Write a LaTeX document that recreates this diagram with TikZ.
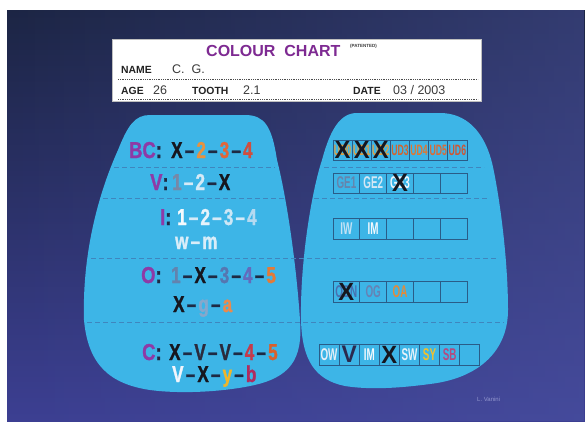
\documentclass[tikz,border=0pt]{standalone}
\usepackage{fontspec}
\setmainfont{Liberation Sans}
\newfontfamily\condb{Liberation Sans}[FakeStretch=0.74, FakeBold=1.3]
\newfontfamily\condl{Liberation Sans}[FakeStretch=0.8, FakeBold=1.3]
\newfontfamily\cellf{Liberation Sans}[FakeStretch=0.58]
\newfontfamily\xf{Liberation Sans}[FakeStretch=0.95]
\usetikzlibrary{fadings}
\tikzfading[name=fadeleft, left color=transparent!100, right color=transparent!0]
\definecolor{bgtop}{HTML}{1C2544}
\definecolor{bgbot}{HTML}{3C3F92}
\definecolor{bgright}{HTML}{5058A8}
\definecolor{blob}{HTML}{3DB5E7}
\definecolor{sepc}{HTML}{3F86BE}
\definecolor{lpurp}{HTML}{8E3AA6}
\definecolor{tpurp}{HTML}{7E2A92}
\definecolor{dk}{HTML}{1E2A44}
\definecolor{lh}{HTML}{D6EAF7}
\definecolor{xblk}{HTML}{16161E}
\definecolor{o2}{HTML}{E8923F}
\definecolor{o3}{HTML}{E0663A}
\definecolor{o4}{HTML}{CF4E3E}
\definecolor{v1}{HTML}{7888A6}
\definecolor{v2}{HTML}{D6EAF7}
\definecolor{i1}{HTML}{F6FAFD}
\definecolor{i2}{HTML}{E6F3FB}
\definecolor{i3}{HTML}{CDE7F6}
\definecolor{i4}{HTML}{B5DAF1}
\definecolor{wm}{HTML}{D9EDF9}
\definecolor{n1}{HTML}{6383AE}
\definecolor{n3}{HTML}{5676B0}
\definecolor{n4}{HTML}{646ABC}
\definecolor{n5}{HTML}{E57A36}
\definecolor{gg}{HTML}{86A8CC}
\definecolor{aa}{HTML}{E98A4E}
\definecolor{vv}{HTML}{2A2A3C}
\definecolor{c4}{HTML}{C63A4A}
\definecolor{c5}{HTML}{D9602C}
\definecolor{vw}{HTML}{F2F5FC}
\definecolor{yy}{HTML}{F0B52A}
\definecolor{bb}{HTML}{B02C5E}
\definecolor{cellline}{HTML}{2A5C88}
\definecolor{ud0}{HTML}{E0A040}
\definecolor{ud3}{HTML}{D2642E}
\definecolor{ud4}{HTML}{E07832}
\definecolor{ud5}{HTML}{DC6A34}
\definecolor{ud6}{HTML}{CE5634}
\definecolor{ge1}{HTML}{6684AC}
\definecolor{ge2}{HTML}{D3E7F5}
\definecolor{ge3}{HTML}{EEF6FC}
\definecolor{iw}{HTML}{C4E2F5}
\definecolor{im}{HTML}{F2F9FE}
\definecolor{obn}{HTML}{4870B0}
\definecolor{og}{HTML}{6682B4}
\definecolor{oa}{HTML}{E28A3A}
\definecolor{ow}{HTML}{E4EFF8}
\definecolor{vn}{HTML}{2B2A4E}
\definecolor{sw}{HTML}{E8F3FB}
\definecolor{sy}{HTML}{F2C02C}
\definecolor{sb}{HTML}{B44A7E}
\definecolor{sig}{HTML}{9397CF}
\definecolor{hdtxt}{HTML}{222222}
\definecolor{hdval}{HTML}{3A3A3A}
\newcommand\cc[2]{\textcolor{#1}{#2}}
\newcommand\ck[2]{\textcolor{#1}{#2}\kern2.2pt}
\tikzset{
  lab/.style={anchor=base west, inner sep=0pt, font=\condl\bfseries\fontsize{23}{23}\selectfont, text=lpurp},
  seq/.style={anchor=base west, inner sep=0pt, font=\condb\bfseries\fontsize{23}{23}\selectfont},
  sepline/.style={draw=sepc, line width=0.9pt, dash pattern=on 5pt off 3pt},
  hdlab/.style={anchor=base west, inner sep=0pt, font=\bfseries\fontsize{10.4}{10.4}\selectfont, text=hdtxt},
  hdval/.style={anchor=base west, inner sep=0pt, font=\fontsize{12.5}{12.5}\selectfont, text=hdval},
  hdline/.style={draw=black!70, line width=0.6pt, dash pattern=on 1pt off 0.8pt},
  cell/.style={draw=cellline, line width=0.8pt, inner sep=0pt, outer sep=0pt, anchor=north west, font=\cellf\bfseries\fontsize{17}{17}\selectfont},
  xmark/.style={inner sep=0pt, text=xblk, font=\xf\bfseries\fontsize{25}{25}\selectfont},
}
\begin{document}
\begin{tikzpicture}[x=1pt, y=-1pt]
\useasboundingbox (0,0) rectangle (585,421);
% background
\fill[white] (0,0) rectangle (585,421);
\shade[top color=bgtop, bottom color=bgbot] (7,10) rectangle (585,421);
\fill[bgright, path fading=fadeleft, opacity=0.45] (7,10) rectangle (585,421);
% header card
\draw[fill=white, draw=black!25] (112,39) rectangle (481,101);
\node[anchor=base west, inner sep=0pt, font=\bfseries\fontsize{16}{16}\selectfont, text=tpurp] (title) at (206,56) {COLOUR\ \ CHART};
\node[anchor=base west, inner sep=0pt, font=\bfseries\fontsize{4.5}{4.5}\selectfont, text=hdval] (pat) at (350,47) {(PATENTED)};
\node[hdlab] (name) at (121,73) {NAME};
\node[hdval] (nameval) at (172,73) {C.\hspace{7pt}G.};
\draw[hdline] (118,79) -- (478,79);
\node[hdlab] (age) at (121,94) {AGE};
\node[hdval] (ageval) at (153,94) {26};
\node[hdlab] (tooth) at (192,94) {TOOTH};
\node[hdval] (toothval) at (243,94) {2.1};
\node[hdlab] (date) at (353,94) {DATE};
\node[hdval] (dateval) at (393,94) {03 / 2003};
\draw[hdline] (118,99) -- (478,99);
% blobs
\fill[blob] (150,115) -- (245,115) .. controls (265,115) and (272,127) .. (277,160)
  .. controls (286,195) and (296,260) .. (300,320)
  .. controls (303,360) and (290,378) .. (250,386)
  .. controls (220,392) and (180,394) .. (150,390)
  .. controls (110,384) and (88,365) .. (84,320)
  .. controls (82,250) and (100,190) .. (118,150)
  .. controls (128,125) and (135,115) .. (150,115) -- cycle;
\fill[blob] (357,113) -- (440,113) .. controls (465,113) and (485,130) .. (493,167)
  .. controls (500,200) and (508,260) .. (508,310)
  .. controls (508,350) and (480,378) .. (430,384)
  .. controls (400,388) and (370,390) .. (345,386)
  .. controls (315,380) and (302,360) .. (301,320)
  .. controls (300,260) and (312,190) .. (322,160)
  .. controls (330,130) and (340,113) .. (357,113) -- cycle;
% separators
\draw[sepline] (114,167) -- (275,167);
\draw[sepline] (324,167) -- (484,167);
\draw[sepline] (103,198) -- (284,198);
\draw[sepline] (314,198) -- (489,198);
\draw[sepline] (91,258) -- (497,258);
\draw[sepline] (87,322) -- (504,322);
% left blob text
\node[lab] (bcL) at (129,158) {BC\cc{dk}{:}};
\node[seq] (bcS) at (171,158) {\ck{xblk}{X}\ck{dk}{–}\ck{o2}{2}\ck{dk}{–}\ck{o3}{3}\ck{dk}{–}\cc{o4}{4}};
\node[lab] (vL) at (150,190) {V\cc{dk}{:}};
\node[seq] (vS) at (172,190) {\ck{v1}{1}\ck{lh}{–}\ck{v2}{2}\ck{dk}{–}\cc{xblk}{X}};
\node[lab] (iL) at (160,225) {I\cc{dk}{:}};
\node[seq] (iS) at (177,225) {\ck{i1}{1}\ck{lh}{–}\ck{i2}{2}\ck{lh}{–}\ck{i3}{3}\ck{lh}{–}\cc{i4}{4}};
\node[seq] (wm) at (175,249) {\ck{wm}{w}\ck{wm}{–}\cc{wm}{m}};
\node[lab] (oL) at (141,283) {O\cc{dk}{:}};
\node[seq] (oS) at (171,283) {\ck{n1}{1}\ck{dk}{–}\ck{xblk}{X}\ck{dk}{–}\ck{n3}{3}\ck{dk}{–}\ck{n4}{4}\ck{dk}{–}\cc{n5}{5}};
\node[seq] (xga) at (173,312) {\ck{xblk}{X}\ck{dk}{–}\ck{gg}{g}\ck{dk}{–}\cc{aa}{a}};
\node[lab] (cL) at (142,360) {C\cc{dk}{:}};
\node[seq] (cS) at (169,360) {\ck{xblk}{X}\ck{dk}{–}\ck{vv}{V}\ck{dk}{–}\ck{vv}{V}\ck{dk}{–}\ck{c4}{4}\ck{dk}{–}\cc{c5}{5}};
\node[seq] (vxyb) at (172,382) {\ck{vw}{V}\ck{dk}{–}\ck{xblk}{X}\ck{dk}{–}\ck{yy}{y}\ck{dk}{–}\cc{bb}{b}};
% right blob cells
\foreach \t [count=\i from 0] in {{\cc{ud0}{UD0}},{\cc{ud0}{UD1}},{\cc{ud0}{UD2}},{\cc{ud3}{UD3}},{\cc{ud4}{UD4}},{\cc{ud5}{UD5}},{\cc{ud6}{UD6}}}
  \node[cell, minimum width=19.14pt, minimum height=20pt, font=\cellf\bfseries\fontsize{15}{15}\selectfont] (ra\i) at ({333+\i*19.14},140) {\t};
\foreach \t [count=\i from 0] in {{\cc{ge1}{GE1}},{\cc{ge2}{GE2}},{\cc{ge3}{GE3}},{},{}}
  \node[cell, minimum width=26.8pt, minimum height=20pt] (rb\i) at ({333+\i*26.8},173) {\t};
\foreach \t [count=\i from 0] in {{\cc{iw}{IW}},{\cc{im}{IM}},{},{},{}}
  \node[cell, minimum width=26.8pt, minimum height=21pt] (rc\i) at ({333+\i*26.8},218) {\t};
\foreach \t [count=\i from 0] in {{\cc{obn}{OBN}},{\cc{og}{OG}},{\cc{oa}{OA}},{},{}}
  \node[cell, minimum width=26.8pt, minimum height=21pt] (rd\i) at ({333+\i*26.8},281) {\t};
\foreach \t [count=\i from 0] in {{\cc{ow}{OW}},{},{\cc{im}{IM}},{},{\cc{sw}{SW}},{\cc{sy}{SY}},{\cc{sb}{SB}},{}}
  \node[cell, minimum width=20.1pt, minimum height=21pt] (re\i) at ({319+\i*20.1},344) {\t};
\node[inner sep=0pt, text=vn, font=\xf\bfseries\fontsize{24}{24}\selectfont] (veV) at (re1.center) {V};
% crosses
\node[xmark] (xa0) at (ra0.center) {X};
\node[xmark] (xa1) at (ra1.center) {X};
\node[xmark] (xa2) at (ra2.center) {X};
\node[xmark] (xb2) at (rb2.center) {X};
\node[xmark] (xd0) at (rd0.center) {X};
\node[xmark] (xe3) at (re3.center) {X};
% signature
\node[anchor=base west, inner sep=0pt, font=\fontsize{6}{6}\selectfont, text=sig] (sign) at (477,401) {L. Vanini};
\end{tikzpicture}
\end{document}
